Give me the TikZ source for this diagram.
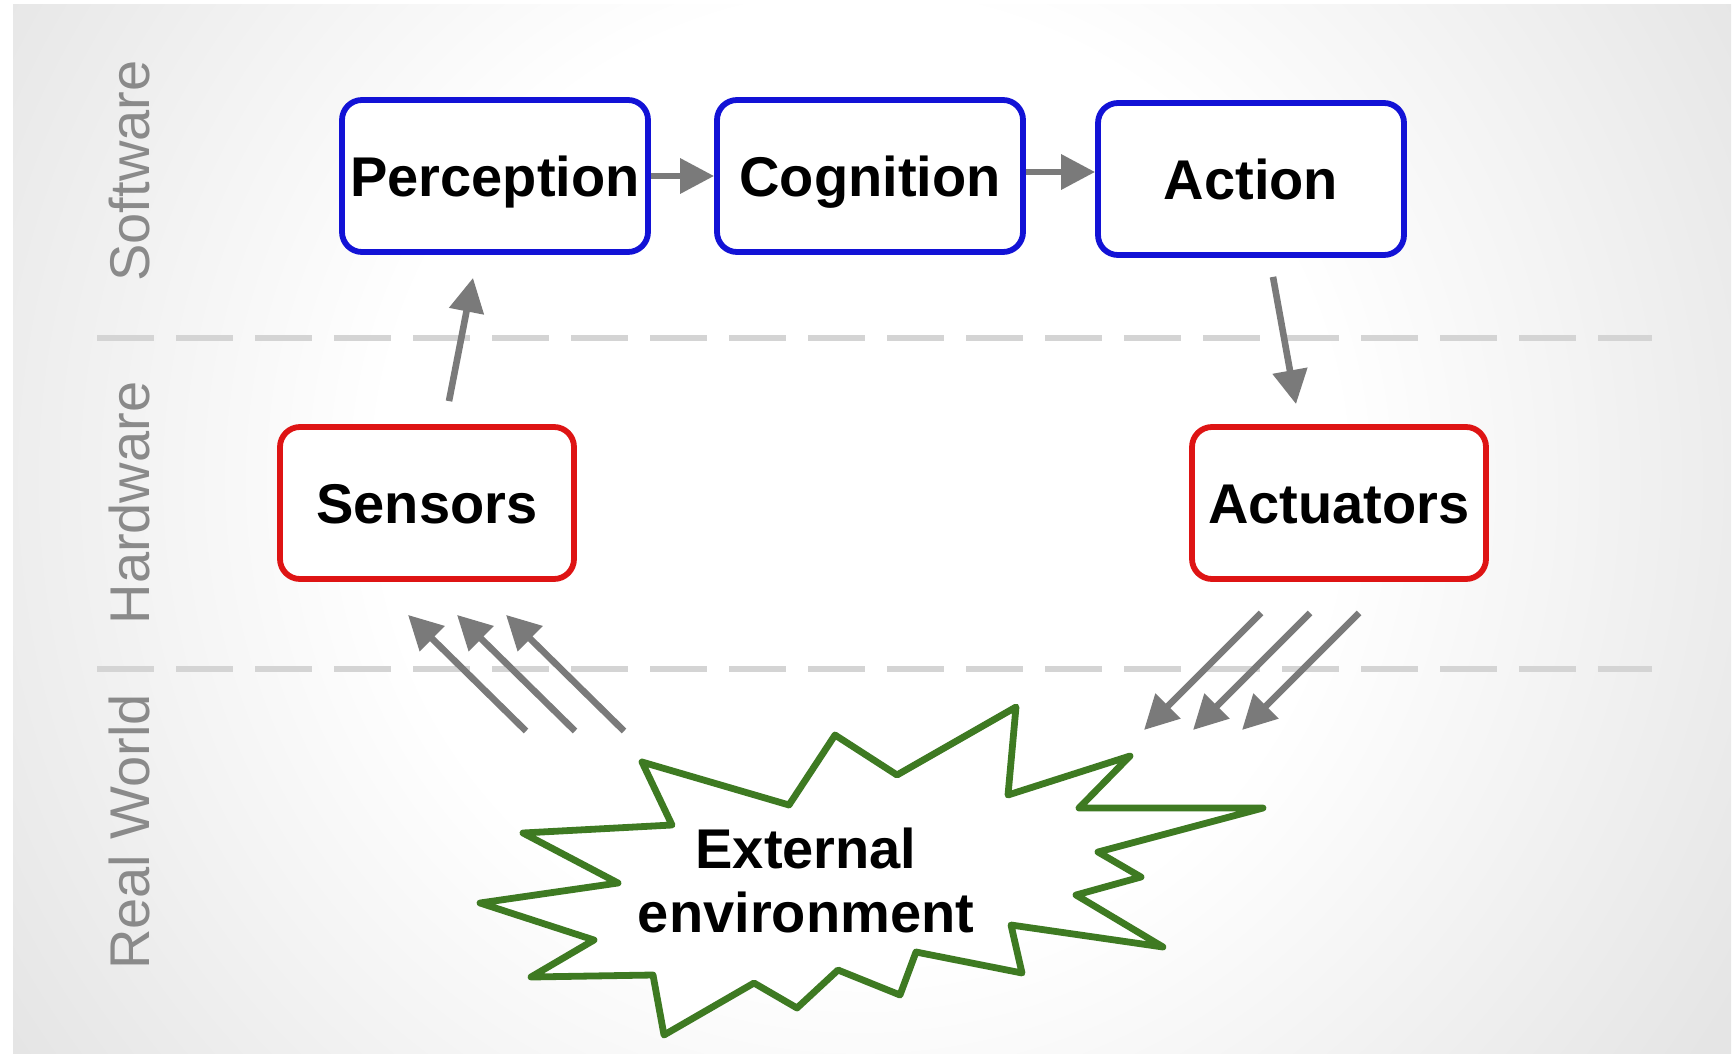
\documentclass[tikz,border=0pt]{standalone}
\usepackage{fontspec}
\setmainfont{Liberation Sans}
\usetikzlibrary{arrows.meta,calc}

\definecolor{boxblue}{RGB}{18,18,214}
\definecolor{boxred}{RGB}{222,20,20}
\definecolor{envgreen}{RGB}{62,122,34}
\definecolor{flowgray}{RGB}{122,122,122}
\definecolor{layergray}{RGB}{138,138,138}
\definecolor{dashgray}{RGB}{212,212,212}

% soft white glow in the middle, greying towards the edges
\pgfdeclareradialshading{backdrop}{\pgfpoint{0bp}{0bp}}{%
  color(0bp)=(white); color(10bp)=(white); color(21bp)=(black!10);
  color(36bp)=(black!17); color(42bp)=(black!20); color(50bp)=(black!22)}

\begin{document}
\begin{tikzpicture}[x=0.5pt,y=-0.5pt,
  stage/.style={draw, fill=white, line width=2.9pt, rounded corners=10pt,
    font=\bfseries\fontsize{28}{32}\selectfont, text height=20pt, text depth=0pt, inner sep=0pt},
  soft/.style={stage, draw=boxblue, minimum width=153pt, minimum height=76pt},
  hard/.style={stage, draw=boxred, minimum width=147pt, minimum height=76pt},
  layer/.style={rotate=90, anchor=base, text=layergray, font=\fontsize{28}{32}\selectfont},
  flow/.style={draw=flowgray, line width=3.3pt, -{Triangle[length=17pt,width=17pt]}},
  divider/.style={draw=dashgray, line width=3pt, dash pattern=on 28.5pt off 11pt},
]
\useasboundingbox (0,0) rectangle (1734,1054);

% backdrop
\begin{scope}
  \clip (13,5) rectangle (1731,1054);
  \shade[shading=backdrop] (860,480) circle[radius=600pt];
\end{scope}

% layer separators
\draw[divider] (97,338) -- (1652,338);
\draw[divider] (97,669) -- (1652,669);

% layer names
\node[layer] (sw) at (149,171) {Software};
\node[layer] (hw) at (149,503) {Hardware};
\node[layer] (rw) at (149,832) {Real World};

% software stages
\node[soft] (perc) at (495,176) {Perception};
\node[soft] (cog)  at (870,176) {Cognition};
\node[soft] (act)  at (1251,179) {Action};

% hardware stages
\node[hard] (sens) at (427,503) {Sensors};
\node[hard] (actu) at (1339,503) {Actuators};

% the environment burst
\draw[envgreen, line width=3.4pt, fill=white, line join=round]
  (1016,707) -- (1008,795) -- (1130,756) -- (1079,808) -- (1263,808)
  -- (1098,852) -- (1141,877) -- (1076,895) -- (1163,947) -- (1011,925)
  -- (1022,973) -- (916,952) -- (900,995) -- (838,970) -- (797,1008)
  -- (754,983) -- (664,1035) -- (653,975) -- (531,977) -- (594,940)
  -- (480,903) -- (618,883) -- (523,833) -- (672,825) -- (642,762)
  -- (789,805) -- (835,735) -- (897,775) -- cycle;
\node[font=\bfseries\fontsize{28}{32}\selectfont, align=center] (env) at (806,880)
  {External\\environment};

% processing chain
\draw[flow] (perc.east) -- (cog.west);
\draw[flow] ($(cog.east)+(0,-4)$) -- ($(cog.east -| act.west)+(0,-4)$);
\draw[flow] ($(sens.north)+(22,-23)$) -- ($(perc.south)+(-22,23)$);
\draw[flow] ($(act.south)+(22,19)$) -- ($(actu.north)+(-43,-20)$);

% exchange with the environment
\foreach \d in {0,49,98} {
  \draw[flow] ($(env)+(-280+\d,-149)$) -- ($(sens.south)+(-19+\d,33)$);
  \draw[flow] ($(actu.south)+(-78+\d,31)$) -- ($(env)+(338+\d,-150)$);
}
\end{tikzpicture}
\end{document}
